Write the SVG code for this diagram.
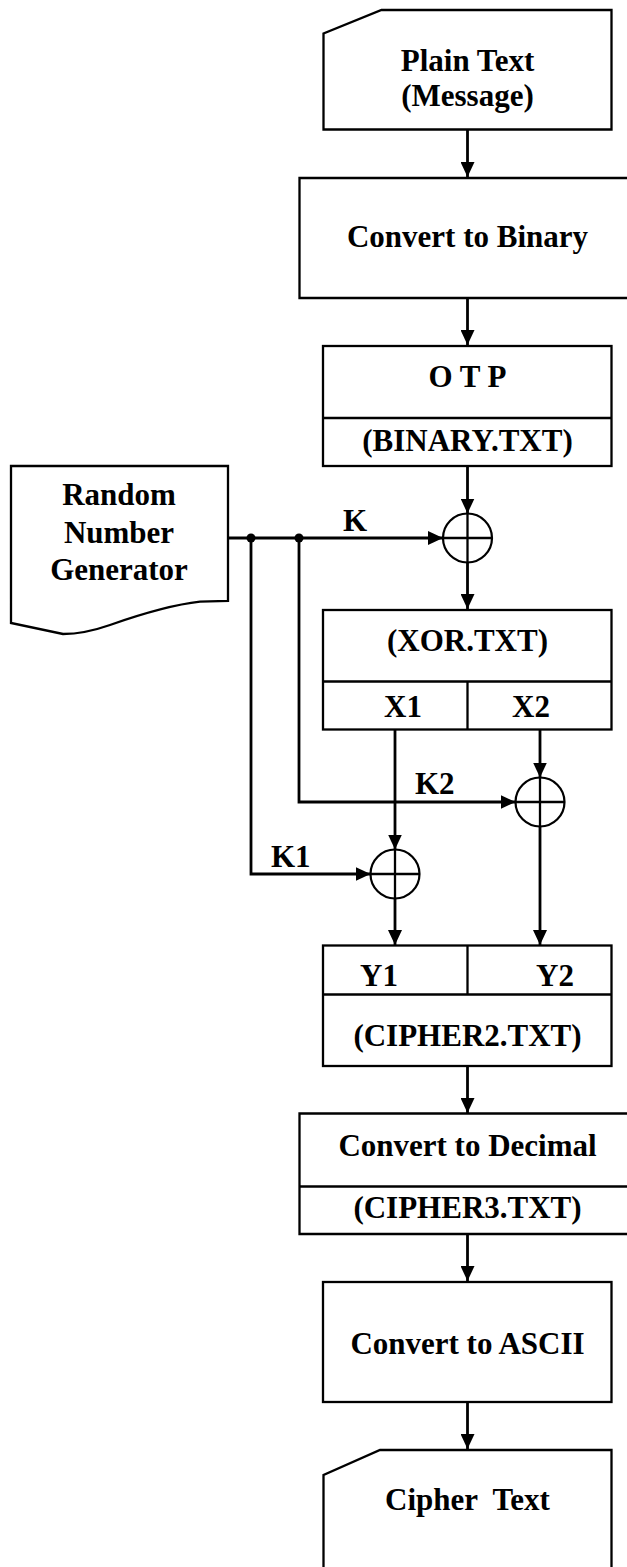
<svg xmlns="http://www.w3.org/2000/svg" width="627" height="1567" viewBox="0 0 627 1567">
<style>
.box{fill:#fff;stroke:#000;stroke-width:2.3}
.div{fill:none;stroke:#000;stroke-width:2.3}
.t{font-family:"Liberation Serif","Times New Roman",serif;font-weight:bold;font-size:31px;fill:#000;text-anchor:middle}
.lbl{font-family:"Liberation Serif","Times New Roman",serif;font-weight:bold;font-size:31px;fill:#000}
.ln{fill:none;stroke:#000;stroke-width:2.8}
.xor{fill:#fff;stroke:#000;stroke-width:2.2}
.dot{fill:#000}
</style>
<defs>
<marker id="ah" viewBox="0 0 15 14" refX="15" refY="7" markerWidth="15" markerHeight="14" markerUnits="userSpaceOnUse" orient="auto">
<path d="M0,0 L15,7 L0,14 Z" fill="#000"/>
</marker>
</defs>
<rect width="627" height="1567" fill="#fff"/>

<g id="connectors">
<path class="ln" d="M467.5,129 V177" marker-end="url(#ah)"/>
<path class="ln" d="M467.5,298 V345" marker-end="url(#ah)"/>
<path class="ln" d="M467.5,466 V513.5" marker-end="url(#ah)"/>
<path class="ln" d="M467.5,562 V609" marker-end="url(#ah)"/>
<path class="ln" d="M228,538 H443" marker-end="url(#ah)"/>
<path class="ln" d="M299,538 V802 H515.5" marker-end="url(#ah)"/>
<path class="ln" d="M251,538 V874 H370.5" marker-end="url(#ah)"/>
<path class="ln" d="M395,729 V849.5" marker-end="url(#ah)"/>
<path class="ln" d="M540,729 V777.5" marker-end="url(#ah)"/>
<path class="ln" d="M395,898 V945" marker-end="url(#ah)"/>
<path class="ln" d="M540,826 V945" marker-end="url(#ah)"/>
<path class="ln" d="M467.5,1066 V1113" marker-end="url(#ah)"/>
<path class="ln" d="M467.5,1234 V1281" marker-end="url(#ah)"/>
<path class="ln" d="M467.5,1402 V1449" marker-end="url(#ah)"/>
<circle class="dot" cx="251" cy="538" r="4.5"/>
<circle class="dot" cx="299" cy="538" r="4.5"/>
<text class="lbl" x="343" y="531">K</text>
<text class="lbl" x="415" y="794">K2</text>
<text class="lbl" x="271" y="867">K1</text>
</g>

<g id="plain-text">
<path class="box" d="M381.5,10 H611.5 V129.5 H323.5 V33.5 Z"/>
<text class="t" x="467.5" y="71">Plain Text</text>
<text class="t" x="467.5" y="106">(Message)</text>
</g>

<g id="convert-binary">
<path class="box" d="M640,178 H299.5 V298 H640"/>
<text class="t" x="467.5" y="247">Convert to Binary</text>
</g>

<g id="otp">
<rect class="box" x="323" y="346" width="288.5" height="120"/>
<line class="div" x1="323" y1="418" x2="611.5" y2="418"/>
<text class="t" x="467.5" y="387" xml:space="preserve">O T P</text>
<text class="t" x="467.5" y="451">(BINARY.TXT)</text>
</g>

<g id="rng">
<path class="box" d="M11,466 H228 V601 L200,601.7 C170,605 130,618 110,625 C90,632 75,634 63,634 L11,623 Z"/>
<text class="t" x="119" y="505">Random</text>
<text class="t" x="119" y="543">Number</text>
<text class="t" x="119" y="580">Generator</text>
</g>

<g id="xor-k">
<circle class="xor" cx="467.5" cy="538" r="24.5"/>
<path class="div" d="M443,538 H492 M467.5,513.5 V562.5"/>
</g>

<g id="xor-txt">
<rect class="box" x="323" y="610" width="288.5" height="119.5"/>
<path class="div" d="M323,681.5 H611.5 M467.5,681.5 V729.5"/>
<text class="t" x="467.5" y="651">(XOR.TXT)</text>
<text class="t" x="403" y="717">X1</text>
<text class="t" x="531" y="717">X2</text>
</g>

<g id="xor-k2">
<circle class="xor" cx="540" cy="802" r="24.5"/>
<path class="div" d="M515.5,802 H564.5 M540,777.5 V826.5"/>
</g>

<g id="xor-k1">
<circle class="xor" cx="395" cy="874" r="24.5"/>
<path class="div" d="M370.5,874 H419.5 M395,849.5 V898.5"/>
</g>

<g id="cipher2">
<rect class="box" x="323" y="945.5" width="288.5" height="120.5"/>
<path class="div" d="M323,994.5 H611.5 M467.5,945.5 V994.5"/>
<text class="t" x="379" y="986">Y1</text>
<text class="t" x="555" y="986">Y2</text>
<text class="t" x="467.5" y="1046">(CIPHER2.TXT)</text>
</g>

<g id="convert-decimal">
<path class="box" d="M640,1113.5 H299.5 V1234 H640"/>
<line class="div" x1="299.5" y1="1186.5" x2="640" y2="1186.5"/>
<text class="t" x="467.5" y="1156">Convert to Decimal</text>
<text class="t" x="467.5" y="1218">(CIPHER3.TXT)</text>
</g>

<g id="convert-ascii">
<rect class="box" x="323" y="1282" width="288.5" height="120"/>
<text class="t" x="467.5" y="1354">Convert to ASCII</text>
</g>

<g id="cipher-text">
<path class="box" d="M380,1450 H611.5 V1590 H323.5 V1475 Z"/>
<text class="t" x="467.5" y="1510" xml:space="preserve">Cipher  Text</text>
</g>
</svg>
